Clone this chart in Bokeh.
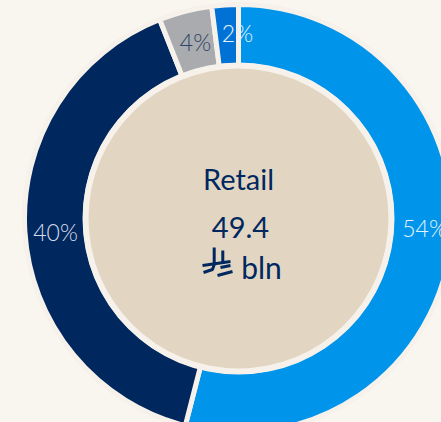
from math import pi
from bokeh.plotting import figure
from bokeh.embed import file_html
from bokeh.resources import INLINE
from bokeh.models import ColumnDataSource
from bokeh.core.properties import value

categories = ["A", "B", "C", "D"]
shares = [54, 40, 4, 2]
share_labels = ["54%", "40%", "4%", "2%"]
colors = ["#0095EA", "#00285F", "#A9ABAE", "#0072D6"]
label_colors = ["#E3F2FC", "#D5DCE7", "#2E4468", "#E3F2FC"]
title = "Retail"
amount = "49.4"
unit = "bln"

BG = "#F9F6F0"
W, H = 441, 422
CX, CY = 238, 218
FONT = "Lato"

ends, starts = [], []
run = 0.0
for s in shares:
    starts.append(pi / 2 - run / sum(shares) * 2 * pi)
    run += s
    ends.append(pi / 2 - run / sum(shares) * 2 * pi)

p = figure(width=W, height=H, x_range=(-CX, W - CX), y_range=(CY - H, CY),
           toolbar_location=None, output_backend="svg", min_border=0,
           background_fill_color=BG, border_fill_color=BG, outline_line_color=None)
p.axis.visible = False
p.grid.visible = False

# soft halo around the ring and the centre disc
p.circle([0], [0], radius=216, fill_color="#F5EFE7", line_color=None)
src = ColumnDataSource(dict(start=ends, end=starts, color=colors))
p.annular_wedge(0, 0, inner_radius=153, outer_radius=214, start_angle="start", end_angle="end",
                fill_color="color", line_color="#F6F1EA", line_width=5, source=src)
p.circle([0], [0], radius=156, fill_color="#F6F1EA", line_color=None)
p.circle([0], [0], radius=150, fill_color="#E2D6C3", line_color=None)

# percentage labels
lx = [186, -183, -43, -1]
ly = [-9, -13, 177, 186]
p.text(lx, ly, text=share_labels, text_color=label_colors, text_font=value("Lato Light"),
       text_font_size="23px", text_align="center", text_baseline="middle")

NAVY = "#00285F"
p.text([0], [40], text=[title], text_color=NAVY, text_font=value(FONT), text_font_size="29px",
       text_align="center", text_baseline="middle")
p.text([2], [-9], text=[amount], text_color=NAVY, text_font=value(FONT), text_font_size="29px",
       text_align="center", text_baseline="middle")
p.text([23], [-48], text=[unit], text_color=NAVY, text_font=value(FONT), text_font_size="30px",
       text_align="center", text_baseline="middle")

# currency sign, drawn as strokes
p.multi_line(xs=[[-24.3, -24.3, -26, -35], [-15.7, -15.7], [-36, -8], [-18, -8], [-21, -6]],
             ys=[[-29, -46, -51, -54], [-32, -45], [-47, -43], [-49, -47], [-57, -53]],
             line_color=NAVY, line_width=3)

html = file_html(p, INLINE)
html = html.replace("</head>", "<style>html,body{margin:0;padding:0;overflow:hidden;background:%s}</style></head>" % BG)
open("out.html", "w").write(html)
